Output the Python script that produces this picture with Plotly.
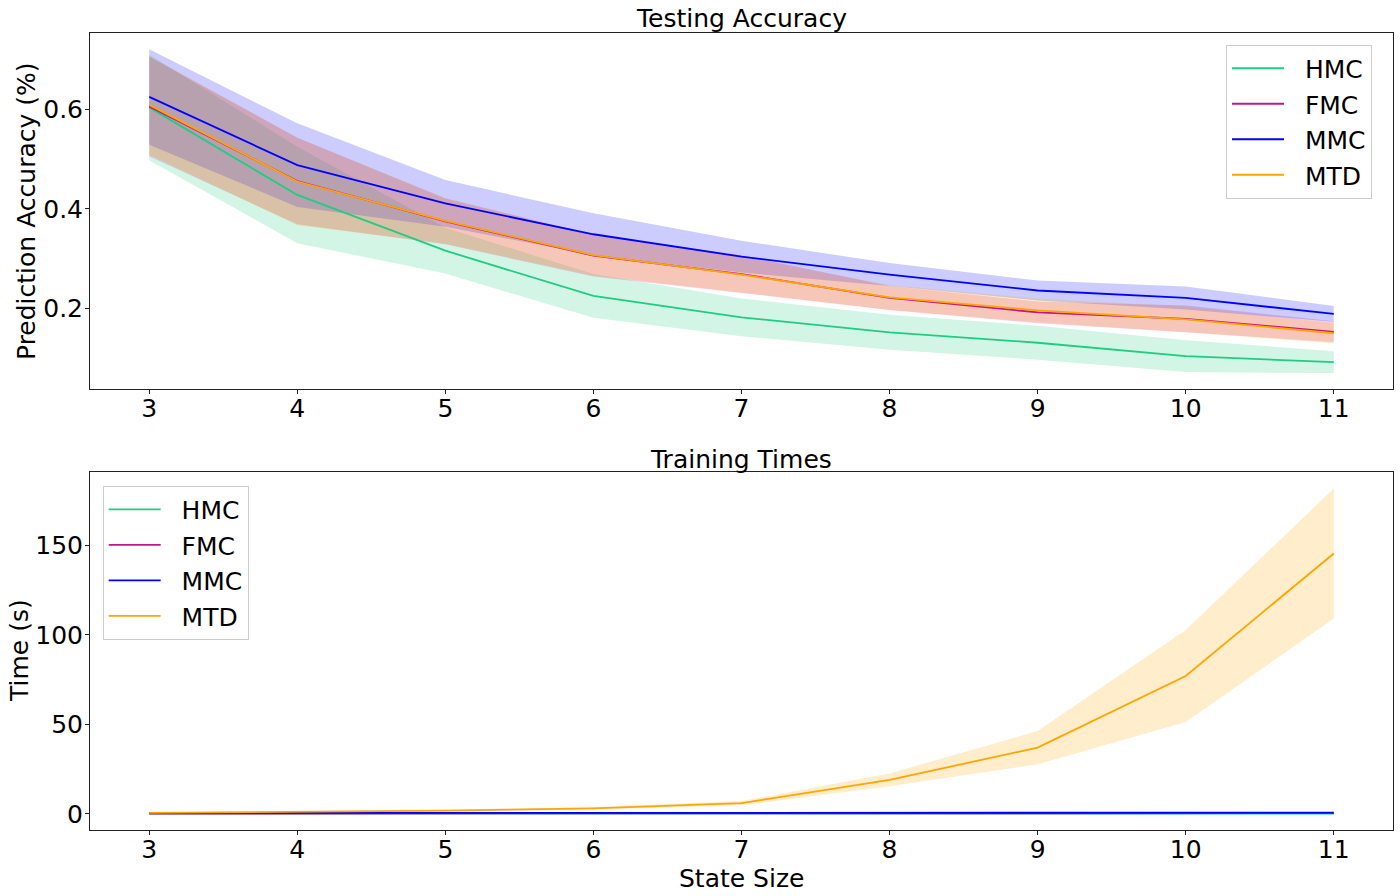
import plotly.graph_objects as go

# ---------------- data ----------------
state_sizes = [3, 4, 5, 6, 7, 8, 9, 10, 11]
methods = ["HMC", "FMC", "MMC", "MTD"]

acc_mean_hmc = [0.604, 0.428, 0.316, 0.225, 0.182, 0.152, 0.131, 0.104, 0.092]
acc_std_hmc = [0.106, 0.097, 0.046, 0.044, 0.038, 0.035, 0.034, 0.032, 0.022]
acc_mean_fmc = [0.606, 0.456, 0.375, 0.306, 0.269, 0.221, 0.192, 0.179, 0.153]
acc_std_fmc = [0.100, 0.087, 0.046, 0.042, 0.038, 0.024, 0.022, 0.027, 0.021]
acc_mean_mmc = [0.625, 0.488, 0.411, 0.349, 0.304, 0.268, 0.236, 0.221, 0.189]
acc_std_mmc = [0.096, 0.084, 0.047, 0.042, 0.032, 0.023, 0.020, 0.023, 0.016]
acc_mean_mtd = [0.609, 0.455, 0.376, 0.307, 0.268, 0.222, 0.196, 0.178, 0.150]
acc_std_mtd = [0.099, 0.088, 0.046, 0.041, 0.036, 0.025, 0.024, 0.026, 0.020]

time_mean_hmc = [0.1, 0.1, 0.1, 0.1, 0.1, 0.2, 0.2, 0.2, 0.2]
time_std_hmc = [0.02, 0.02, 0.02, 0.02, 0.03, 0.03, 0.03, 0.03, 0.03]
time_mean_fmc = [0.2, 0.2, 0.2, 0.3, 0.3, 0.3, 0.3, 0.4, 0.4]
time_std_fmc = [0.03, 0.03, 0.03, 0.04, 0.04, 0.04, 0.05, 0.05, 0.05]
time_mean_mmc = [0.5, 0.5, 0.5, 0.6, 0.6, 0.6, 0.6, 0.7, 0.7]
time_std_mmc = [0.05, 0.05, 0.05, 0.06, 0.06, 0.06, 0.07, 0.07, 0.07]
time_mean_mtd = [0.6, 1.1, 1.8, 3.1, 6.0, 19.0, 37.0, 77.0, 145.5]
time_std_mtd = [0.2, 0.3, 0.5, 0.7, 1.2, 3.6, 9.3, 25.7, 36.3]

acc_means = [acc_mean_hmc, acc_mean_fmc, acc_mean_mmc, acc_mean_mtd]
acc_stds = [acc_std_hmc, acc_std_fmc, acc_std_mmc, acc_std_mtd]
time_means = [time_mean_hmc, time_mean_fmc, time_mean_mmc, time_mean_mtd]
time_stds = [time_std_hmc, time_std_fmc, time_std_mmc, time_std_mtd]

# ---------------- style ----------------
colors = {"HMC": (30, 205, 130), "FMC": (199, 21, 133), "MMC": (0, 0, 255), "MTD": (255, 165, 0)}
FONT = "DejaVu Sans"
FS = 25

# the page body margin is removed (post_script), so figure pixels == window pixels
W, H = 1400, 896
L, R, T, B = 90, 7, 33, 66
PW, PH = W - L - R, H - T - B


def px_x(px):  # window pixel -> paper x
    return (px - L) / PW


def px_y(py):  # window pixel -> paper y
    return (H - B - py) / PH


fig = go.Figure()


def add_series(means, stds, xa, ya, legend_name):
    for name, m, s in zip(methods, means, stds):
        r, g, b = colors[name]
        upper = [a + d for a, d in zip(m, s)]
        lower = [a - d for a, d in zip(m, s)]
        fig.add_trace(go.Scatter(x=state_sizes, y=upper, mode="lines", line=dict(width=0),
                                 showlegend=False, hoverinfo="skip", xaxis=xa, yaxis=ya))
        fig.add_trace(go.Scatter(x=state_sizes, y=lower, mode="lines", line=dict(width=0),
                                 fill="tonexty", fillcolor=f"rgba({r},{g},{b},0.2)",
                                 showlegend=False, hoverinfo="skip", xaxis=xa, yaxis=ya))
    for name, m in zip(methods, means):
        r, g, b = colors[name]
        fig.add_trace(go.Scatter(x=state_sizes, y=m, mode="lines", name="\u00a0\u00a0" + name,
                                 line=dict(color=f"rgb({r},{g},{b})", width=1.8),
                                 xaxis=xa, yaxis=ya, legend=legend_name))


add_series(acc_means, acc_stds, "x", "y", "legend")
add_series(time_means, time_stds, "x2", "y2", "legend2")

axis_common = dict(showline=True, mirror=True, linecolor="#222", linewidth=1, automargin=False,
                   ticks="outside", ticklen=4, tickcolor="#222", showgrid=False, zeroline=False,
                   tickfont=dict(family=FONT, size=FS, color="black"))
xaxis_extra = dict(ticklabelstandoff=-7)
yaxis_extra = dict(ticklabelstandoff=-3)

top_dom = [px_y(389), 1.0]
bot_dom = [0.0, px_y(472)]

legend_common = dict(bgcolor="rgba(255,255,255,0.8)", bordercolor="#cccccc", borderwidth=1,
                     font=dict(family=FONT, size=FS), traceorder="normal", itemwidth=52)


def ann(text, x, y, angle=0):
    return dict(text=text, x=px_x(x), y=px_y(y), xref="paper", yref="paper", showarrow=False,
                xanchor="center", yanchor="middle", textangle=angle, borderpad=0,
                font=dict(family=FONT, size=FS, color="black"))


fig.update_layout(
    width=W, height=H,
    margin=dict(l=L, r=R, t=T, b=B, autoexpand=False),
    paper_bgcolor="white", plot_bgcolor="white",
    font=dict(family=FONT, size=FS, color="black"),
    xaxis=dict(domain=[0, 1], anchor="y", range=[2.6, 11.4], tickvals=state_sizes,
               **axis_common, **xaxis_extra),
    yaxis=dict(domain=top_dom, anchor="x", range=[0.038, 0.7535], tickvals=[0.2, 0.4, 0.6],
               ticktext=["0.2", "0.4", "0.6"], **axis_common, **yaxis_extra),
    xaxis2=dict(domain=[0, 1], anchor="y2", range=[2.6, 11.4], tickvals=state_sizes,
                **axis_common, **xaxis_extra),
    yaxis2=dict(domain=bot_dom, anchor="x2", range=[-9, 191], tickvals=[0, 50, 100, 150],
                **axis_common, **yaxis_extra),
    legend=dict(x=px_x(1372), y=px_y(44.5), xanchor="right", yanchor="top", **legend_common),
    legend2=dict(x=px_x(102.7), y=px_y(485.7), xanchor="left", yanchor="top", **legend_common),
    annotations=[
        ann("Testing Accuracy", 741, 19),
        ann("Training Times", 741, 459),
        ann("Prediction Accuracy (%)", 26, 211, -90),
        ann("Time (s)", 19, 651, -90),
        ann("State Size", 741, 878),
    ],
)

fig.write_html("out.html", config={"displayModeBar": False},
               post_script="document.body.style.margin='0';")
